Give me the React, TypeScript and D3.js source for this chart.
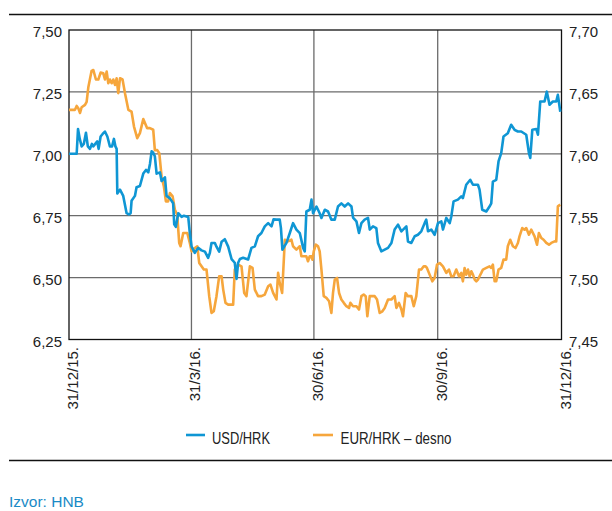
import React from "react";
import * as d3 from "d3";

// Days since 31/12/2015 and USD/HRK values (left axis)
const usdDays = [0, 5.7, 6.7, 8, 9.4, 11, 12.6, 14, 15.6, 17, 18, 19.5, 21, 22, 23.5, 25, 26.7, 28.5, 30.4, 32, 33.4, 34.5, 35.4, 35.9, 37.9, 40.3, 42.8, 44.5, 45.8, 46.5, 49, 50.2, 52.7, 55.2, 57.2, 58.9, 60.2, 61.4, 62.5, 63.8, 65.1, 67.6, 68.8, 71.3, 72.5, 75, 77.4, 78.2, 79.4, 81.2, 83.7, 85.4, 88.6, 89.8, 91.1, 93.5, 96, 98.5, 101, 103.4, 104.7, 105.9, 108.4, 109.6, 111.6, 113.4, 115.8, 118.3, 120.8, 123.2, 124.5, 125.7, 127, 129.4, 133.1, 135.6, 138.1, 140.5, 143, 145.5, 148, 150.5, 152, 154.2, 156.6, 157.5, 158.6, 161.6, 164.1, 166.5, 169, 171.5, 174, 175.2, 176.4, 178.9, 180.2, 181.4, 183.9, 186.3, 187.6, 190.1, 192.5, 195, 197.5, 199.9, 202.4, 204.9, 207.4, 209.9, 211.1, 213.6, 215.5, 217.3, 219.7, 222.2, 223.5, 225.9, 228.4, 229.6, 232.1, 234.6, 237.1, 239.6, 242, 244.5, 247, 250.7, 251.9, 254.4, 256.9, 259.3, 261.8, 264.3, 265.5, 266.8, 269.2, 271.7, 274.2, 276.7, 277.9, 280.4, 282.9, 284.1, 285.8, 289, 291.5, 292.7, 295.2, 298.2, 300.2, 303.9, 305.1, 307.1, 310.1, 312.5, 313.8, 315, 317.5, 319.2, 321.2, 322.9, 326.1, 328.6, 331.1, 333.6, 336.1, 339.8, 341.8, 342.8, 344.3, 347.3, 348.5, 350.2, 353.4, 355.1, 357.1, 359.6, 362.1, 363.3, 365.1];
const usdValues = [7.0, 7.0, 7.1, 7.06, 7.03, 7.04, 7.085, 7.03, 7.02, 7.04, 7.03, 7.04, 7.05, 7.02, 7.07, 7.08, 7.09, 7.07, 7.03, 7.03, 7.06, 7.03, 7.02, 6.84, 6.855, 6.83, 6.76, 6.755, 6.76, 6.81, 6.83, 6.865, 6.87, 6.92, 6.935, 6.925, 6.96, 7.01, 7.005, 6.99, 6.92, 6.925, 6.89, 6.905, 6.83, 6.82, 6.8, 6.715, 6.705, 6.76, 6.745, 6.75, 6.745, 6.68, 6.625, 6.6, 6.62, 6.61, 6.605, 6.58, 6.6, 6.64, 6.64, 6.625, 6.605, 6.645, 6.655, 6.625, 6.575, 6.56, 6.495, 6.56, 6.575, 6.58, 6.573, 6.62, 6.626, 6.667, 6.68, 6.707, 6.72, 6.707, 6.735, 6.734, 6.734, 6.7, 6.613, 6.64, 6.68, 6.72, 6.694, 6.68, 6.62, 6.606, 6.767, 6.774, 6.815, 6.76, 6.787, 6.76, 6.741, 6.774, 6.767, 6.734, 6.734, 6.787, 6.8, 6.787, 6.8, 6.787, 6.742, 6.727, 6.68, 6.72, 6.734, 6.741, 6.694, 6.707, 6.7, 6.64, 6.606, 6.613, 6.62, 6.64, 6.694, 6.714, 6.687, 6.707, 6.646, 6.64, 6.667, 6.673, 6.687, 6.72, 6.734, 6.687, 6.694, 6.673, 6.72, 6.727, 6.694, 6.741, 6.72, 6.747, 6.808, 6.815, 6.828, 6.821, 6.875, 6.895, 6.875, 6.875, 6.855, 6.774, 6.767, 6.787, 6.8, 6.888, 6.895, 6.969, 7.003, 7.07, 7.083, 7.117, 7.097, 7.09, 7.09, 7.077, 7.003, 6.983, 7.097, 7.1, 7.077, 7.211, 7.211, 7.251, 7.198, 7.211, 7.211, 7.238, 7.17];

// Days since 31/12/2015 and EUR/HRK values (right axis)
const eurDays = [0, 4.45, 5.7, 6.9, 8.2, 9.4, 11.9, 13.1, 14.4, 16.8, 18.1, 20, 21.8, 23.5, 25.5, 26.7, 28, 29.2, 30.4, 31.7, 32.9, 34.2, 35.4, 36.6, 37.9, 39.8, 41.6, 44.1, 46.5, 48.3, 50.7, 52.7, 55.2, 58.1, 60.1, 62.6, 63.8, 65.6, 67.1, 68.8, 70.5, 72, 73.7, 75, 77, 78.7, 80.4, 81.9, 82.9, 84.9, 87.9, 89.8, 91.1, 93.5, 95.3, 96.8, 98.5, 100.2, 102.2, 104.2, 105.9, 107.6, 109.6, 111.6, 113.4, 114.6, 116.3, 118.3, 122, 123.2, 125.7, 128.2, 130.2, 131.9, 134.4, 136.4, 138.1, 140.5, 143, 145.5, 148, 149.7, 151.7, 154.2, 155.4, 156.6, 158.4, 160.4, 162.8, 165.3, 166.5, 169, 171.5, 172.7, 175.2, 176.4, 177.6, 178.9, 180.1, 180.9, 181.9, 183.4, 185.1, 186.3, 187.6, 189.3, 191.3, 193.3, 195, 196.2, 197.5, 199.2, 200.7, 202.4, 204.2, 206.1, 208.1, 209.1, 211.1, 213.6, 215.5, 217.3, 219, 220.5, 221.7, 223.5, 225.4, 227.2, 228.9, 230.9, 232.9, 234.6, 237.1, 239.6, 242, 243.3, 245.2, 247, 248.2, 250.2, 251.9, 254.4, 256.2, 258.1, 260.1, 261.8, 263.6, 265, 266, 268, 270, 271.7, 273.5, 275.5, 277.9, 280.4, 282.4, 284.1, 285.8, 287.8, 289.8, 291.5, 292.7, 294, 295.2, 296.5, 297.7, 299, 300.2, 301.5, 302.7, 303.9, 305.1, 306.4, 307.6, 310.1, 312.5, 313.8, 315, 316.3, 317.5, 319.2, 321.2, 322.9, 324.9, 326.1, 327.9, 329.9, 331.8, 333.6, 334.8, 336.8, 338.5, 339.8, 341.8, 343.5, 346, 347.8, 349.2, 351, 352.7, 354.7, 356.7, 358.4, 360.9, 362.1, 363.3, 365.1];
const eurValues = [7.6355, 7.6355, 7.6387, 7.6368, 7.633, 7.6376, 7.6395, 7.642, 7.654, 7.667, 7.6677, 7.66, 7.66, 7.6656, 7.665, 7.66, 7.6664, 7.657, 7.66, 7.657, 7.66, 7.6556, 7.661, 7.649, 7.661, 7.66, 7.649, 7.6355, 7.634, 7.622, 7.6126, 7.6167, 7.628, 7.6207, 7.6207, 7.6194, 7.603, 7.603, 7.6005, 7.5817, 7.5737, 7.5616, 7.5616, 7.5683, 7.5656, 7.5548, 7.5508, 7.528, 7.5253, 7.536, 7.536, 7.528, 7.5212, 7.5239, 7.5253, 7.5118, 7.5091, 7.5065, 7.5065, 7.485, 7.4715, 7.4728, 7.485, 7.501, 7.501, 7.4903, 7.4796, 7.4782, 7.4782, 7.5065, 7.5105, 7.5091, 7.4876, 7.485, 7.5091, 7.5078, 7.4903, 7.485, 7.485, 7.4863, 7.493, 7.4944, 7.4876, 7.4823, 7.5038, 7.4957, 7.4876, 7.5306, 7.5293, 7.5306, 7.5253, 7.5226, 7.5253, 7.5172, 7.5172, 7.5172, 7.5132, 7.5172, 7.5172, 7.5145, 7.5212, 7.5266, 7.5253, 7.5212, 7.5065, 7.485, 7.4836, 7.4809, 7.4715, 7.4876, 7.4984, 7.4997, 7.4876, 7.4823, 7.4796, 7.4769, 7.4755, 7.4796, 7.4769, 7.4769, 7.4742, 7.485, 7.4863, 7.485, 7.4688, 7.485, 7.485, 7.485, 7.4823, 7.4715, 7.4728, 7.4755, 7.4823, 7.4823, 7.485, 7.4755, 7.4796, 7.4742, 7.4688, 7.4876, 7.485, 7.485, 7.4769, 7.485, 7.5065, 7.5065, 7.5091, 7.5091, 7.5078, 7.5024, 7.497, 7.4997, 7.5105, 7.5118, 7.5091, 7.5038, 7.5065, 7.5011, 7.5011, 7.5065, 7.5011, 7.5038, 7.497, 7.5078, 7.5024, 7.5065, 7.5011, 7.5051, 7.5024, 7.4984, 7.497, 7.4984, 7.5011, 7.5038, 7.5065, 7.5078, 7.5091, 7.5078, 7.5105, 7.497, 7.497, 7.5065, 7.5078, 7.5145, 7.5145, 7.5253, 7.5306, 7.5253, 7.5239, 7.528, 7.5333, 7.54, 7.5387, 7.54, 7.5347, 7.5387, 7.5333, 7.5266, 7.536, 7.532, 7.5306, 7.528, 7.5266, 7.528, 7.5293, 7.5293, 7.5575, 7.5589];

const xTickDays = [0, 91, 182, 274, 366];
const xTickLabels = ["31/12/15.", "31/3/16.", "30/6/16.", "30/9/16.", "31/12/16."];
const leftTicks = [6.25, 6.5, 6.75, 7.0, 7.25, 7.5];
const rightTicks = [7.45, 7.5, 7.55, 7.6, 7.65, 7.7];
const seriesNames = ["USD/HRK", "EUR/HRK – desno"];
const sourceText = "Izvor: HNB";

const BLUE = "#0f96d4";
const ORANGE = "#f6a63c";
const NUM_FONT = "'Liberation Sans', Arial, sans-serif";

export default function App() {
  const W = 612, H = 511;
  const left = 69, right = 561.5, top = 30, bottom = 339.5;

  const x = d3.scaleLinear().domain([0, 366]).range([left, right]);
  const yL = d3.scaleLinear().domain([6.25, 7.5]).range([bottom, top]);
  const yR = d3.scaleLinear().domain([7.45, 7.7]).range([bottom, top]);

  const usd = usdDays.map((d, i) => [d, usdValues[i]] as [number, number]);
  const eur = eurDays.map((d, i) => [d, eurValues[i]] as [number, number]);

  const lineL = d3.line<[number, number]>().x((d) => x(d[0])).y((d) => yL(d[1]));
  const lineR = d3.line<[number, number]>().x((d) => x(d[0])).y((d) => yR(d[1]));

  const fmt = (v: number) => v.toFixed(2).replace(".", ",");

  return (
    <svg
      width={W}
      height={H}
      viewBox={`0 0 ${W} ${H}`}
      style={{ position: "absolute", left: 0, top: 0, display: "block", background: "#fff" }}
    >
      <line x1={9} x2={612} y1={14.5} y2={14.5} stroke="#111" strokeWidth={1.5} />

      {/* grid */}
      {leftTicks.slice(1, -1).map((t) => (
        <line key={"h" + t} x1={left} x2={right} y1={yL(t)} y2={yL(t)} stroke="#6b6b6b" strokeWidth={1.3} />
      ))}
      {xTickDays.slice(1, -1).map((d) => (
        <line key={"v" + d} x1={x(d)} x2={x(d)} y1={top} y2={bottom} stroke="#6b6b6b" strokeWidth={1.3} />
      ))}
      <rect x={left} y={top} width={right - left} height={bottom - top} fill="none" stroke="#111" strokeWidth={1.3} />

      {/* lines */}
      <path d={lineR(eur) || ""} fill="none" stroke={ORANGE} strokeWidth={2.6} strokeLinejoin="round" />
      <path d={lineL(usd) || ""} fill="none" stroke={BLUE} strokeWidth={2.6} strokeLinejoin="round" />

      {/* axis labels */}
      {leftTicks.map((t) => (
        <text key={"l" + t} x={62} y={yL(t) + 7.3} textAnchor="end" fontFamily={NUM_FONT} fontSize={15} fill="#222">
          {fmt(t)}
        </text>
      ))}
      {rightTicks.map((t) => (
        <text key={"r" + t} x={569} y={yR(t) + 7.3} textAnchor="start" fontFamily={NUM_FONT} fontSize={15} fill="#222">
          {fmt(t)}
        </text>
      ))}
      {xTickDays.map((d, i) => (
        <text
          key={"x" + d}
          transform={`translate(${x(d) + 9},347) rotate(-90)`}
          textAnchor="end"
          fontFamily={NUM_FONT}
          fontSize={15}
          fill="#222"
        >
          {xTickLabels[i]}
        </text>
      ))}

      {/* legend */}
      <line x1={186} x2={205} y1={435} y2={435} stroke={BLUE} strokeWidth={2.6} />
      <text x={212} y={444} fontFamily={NUM_FONT} fontSize={15.8} fill="#222" textLength={58} lengthAdjust="spacingAndGlyphs">
        {seriesNames[0]}
      </text>
      <line x1={313} x2={333} y1={435} y2={435} stroke={ORANGE} strokeWidth={2.6} />
      <text x={340.5} y={444} fontFamily={NUM_FONT} fontSize={15.8} fill="#222" textLength={111} lengthAdjust="spacingAndGlyphs">
        {seriesNames[1]}
      </text>

      <line x1={9} x2={612} y1={460.5} y2={460.5} stroke="#111" strokeWidth={1.5} />
      <text x={9} y={507} fontFamily={NUM_FONT} fontSize={15.5} fill="#1a8ac6">{sourceText}</text>
    </svg>
  );
}
